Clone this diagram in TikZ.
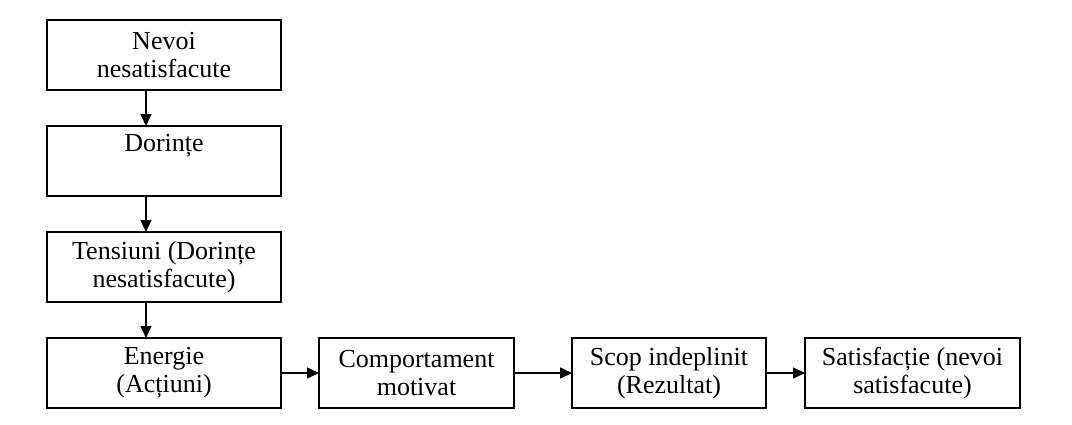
\documentclass[tikz,border=0pt]{standalone}
\usepackage{fontspec}
\setmainfont{Liberation Serif}
\usetikzlibrary{positioning,arrows.meta}

\begin{document}
\begin{tikzpicture}[
    node distance = 18pt and 19pt,
    font={\fontsize{13}{14}\selectfont},
    box/.style={draw,line width=1pt,outer sep=0pt,inner sep=0pt,
                minimum height=35pt,align=center},
    wide/.style={box,minimum width=117pt},
    arr/.style={line width=0.75pt,-{Triangle[length=6pt,width=5.5pt]}},
]
    \useasboundingbox (0,0) rectangle (536pt,-212pt);

    \node[wide]                    (nevoi)    at (82pt,-27.5pt) {Nevoi\\nesatisfacute};
    \node[wide,below=of nevoi]     (dorinte)  {Dorințe\\\strut};
    \node[wide,below=of dorinte]   (tensiuni) {Tensiuni (Dorințe\\nesatisfacute)};
    \node[wide,below=of tensiuni]  (energie)  {Energie\\(Acțiuni)};

    \node[box,minimum width=97.5pt,right=of energie]      (comport) {Comportament\\motivat};
    \node[box,minimum width=97pt,right=29pt of comport]   (scop)    {Scop indeplinit\\(Rezultat)};
    \node[box,minimum width=107.5pt,right=19.5pt of scop] (satisf)  {Satisfacție (nevoi\\satisfacute)};

    \draw[arr] ([xshift=-9pt]nevoi.south)    -- ([xshift=-9pt]dorinte.north);
    \draw[arr] ([xshift=-9pt]dorinte.south)  -- ([xshift=-9pt]tensiuni.north);
    \draw[arr] ([xshift=-9pt]tensiuni.south) -- ([xshift=-9pt]energie.north);

    \draw[arr] (energie) -- (comport);
    \draw[arr] (comport) -- (scop);
    \draw[arr] (scop)    -- (satisf);

\end{tikzpicture}
\end{document}
